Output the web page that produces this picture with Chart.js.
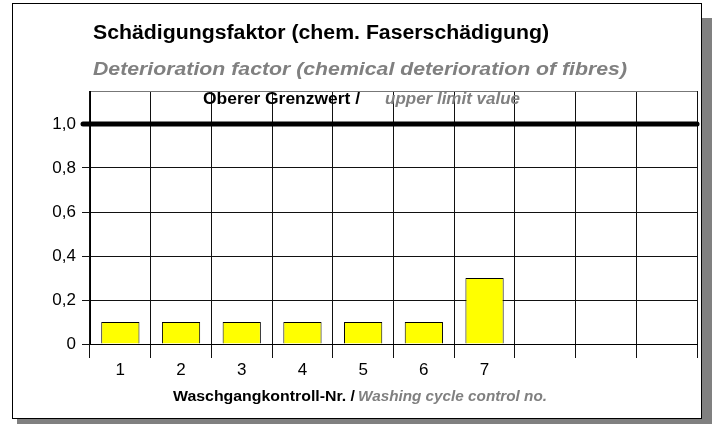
<!DOCTYPE html>
<html lang="de">
<head>
  <meta charset="UTF-8">
  <title>Schädigungsfaktor</title>
  <script src="https://cdn.jsdelivr.net/npm/chart.js@4.4.0/dist/chart.umd.min.js"></script>
  <style>
    body { margin: 0; background: #fff; }
    #frame { position: absolute; left: 12px; top: 3px; width: 688px; height: 414px; border: 1px solid #000; background: #fff; }
    #shadowRight { position: absolute; left: 702px; top: 18px; width: 10px; height: 406px; background: #808080; }
    #shadowBottom { position: absolute; left: 17px; top: 419px; width: 695px; height: 5px; background: #808080; }
    #myChart { position: absolute; left: 0; top: 0; }
  </style>
</head>
<body>
  <div id="shadowRight"></div>
  <div id="shadowBottom"></div>
  <div id="frame"></div>
  <canvas id="myChart" width="716" height="424"></canvas>

  <script>
    // data
    const washCycles = ['1', '2', '3', '4', '5', '6', '7', '', '', ''];
    const damageFactor = [0.1, 0.1, 0.1, 0.1, 0.1, 0.1, 0.3, null, null, null];
    const upperLimit = 1.0;
    const yTickValues = [0, 0.2, 0.4, 0.6, 0.8, 1.0];
    const yMax = 1.15;

    const FONT = '"Liberation Sans", Arial, sans-serif';
    const GRAY = '#808080';

    // the original lettering is a bit wider than Arial, so stretch to its width
    function fitText(ctx, text, x, y, font, color, width) {
      ctx.save();
      ctx.font = font;
      const w = ctx.measureText(text).width;
      ctx.translate(x, y);
      ctx.scale(width / w, 1);
      ctx.fillStyle = color;
      ctx.fillText(text, 0, 0);
      ctx.restore();
    }

    // titles, limit line and axis title (mixed styles, so drawn by hand)
    const textPlugin = {
      id: 'texts',
      afterDraw(chart) {
        const ctx = chart.ctx;
        const area = chart.chartArea;
        const y = chart.scales.y;
        ctx.save();
        ctx.textBaseline = 'alphabetic';
        ctx.textAlign = 'left';

        fitText(ctx, 'Schädigungsfaktor (chem. Faserschädigung)', 93, 39, 'bold 20px ' + FONT, '#000', 456);
        fitText(ctx, 'Deterioration factor (chemical deterioration of fibres)', 93, 75, 'italic bold 18px ' + FONT, GRAY, 534);

        // upper limit line
        const ly = y.getPixelForValue(upperLimit);
        ctx.strokeStyle = '#000';
        ctx.lineWidth = 5;
        ctx.lineCap = 'round';
        ctx.beginPath();
        ctx.moveTo(area.left - 7, ly);
        ctx.lineTo(area.right, ly);
        ctx.stroke();

        fitText(ctx, 'Oberer Grenzwert /', 203, 104, 'bold 16px ' + FONT, '#000', 157);
        fitText(ctx, 'upper limit value', 385, 104, 'italic bold 16px ' + FONT, GRAY, 135);

        // x axis title
        fitText(ctx, 'Waschgangkontroll-Nr. /', 173, 401, 'bold 15px ' + FONT, '#000', 182);
        fitText(ctx, 'Washing cycle control no.', 358, 401, 'italic bold 15px ' + FONT, GRAY, 189);
        ctx.restore();
      }
    };

    const ctx = document.getElementById('myChart').getContext('2d');
    const myChart = new Chart(ctx, {
      type: 'bar',
      data: {
        labels: washCycles,
        datasets: [{
          data: damageFactor,
          backgroundColor: '#ffff00',
          borderColor: '#000',
          borderWidth: 1,
          barPercentage: 0.63,
          categoryPercentage: 1
        }]
      },
      options: {
        responsive: false,
        animation: false,
        layout: { padding: { top: 91, right: 19, left: 0, bottom: 0 } },
        plugins: { legend: { display: false }, tooltip: { enabled: false } },
        scales: {
          x: {
            grid: { offset: true, color: '#111', lineWidth: 1, tickLength: 14, tickColor: '#111' },
            border: { display: true, color: '#000' },
            ticks: { color: '#000', font: { family: FONT, size: 17 }, padding: 2, maxRotation: 0, autoSkip: false },
            afterFit(s) { s.height = 80; }
          },
          y: {
            min: 0,
            max: yMax,
            afterBuildTicks(s) { s.ticks = yTickValues.concat([yMax]).map(v => ({ value: v })); },
            grid: {
              color: c => (c.tick && c.tick.value === yMax) ? '#777' : '#111',
              tickColor: c => (c.tick && c.tick.value === yMax) ? 'rgba(0,0,0,0)' : '#111',
              tickLength: 8
            },
            border: { color: '#000' },
            ticks: {
              color: '#000',
              font: { family: FONT, size: 17 },
              padding: 6,
              callback: v => v === yMax ? '' : (v === 0 ? '0' : v.toFixed(1).replace('.', ','))
            },
            afterFit(s) { s.width = 90; }
          }
        }
      },
      plugins: [textPlugin]
    });
  </script>
</body>
</html>
